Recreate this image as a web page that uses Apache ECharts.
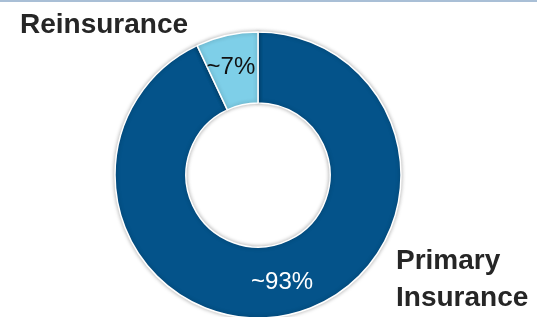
<!DOCTYPE html>
<html>
<head>
<meta charset="utf-8">
<script src="https://cdn.jsdelivr.net/npm/echarts@6/dist/echarts.min.js"></script>
<style>
  html, body { margin: 0; padding: 0; background: #fff; }
  #main { width: 537px; height: 317px; }
</style>
</head>
<body>
<div id="main"></div>
<script>
// segments, clockwise from 12 o'clock
var segNames = ["Primary Insurance", "Reinsurance"];
var segValues = [93, 7];
var segLabels = ["~93%", "~7%"];
var segColors = ["#04538A", "#7ECFE8"];
var labelColors = ["#ffffff", "#111111"];

var chartDom = document.getElementById("main");
var myChart = echarts.init(chartDom, null, { renderer: "canvas" });

var pieData = [];
for (let i = 0; i < segNames.length; i++) {
  pieData.push({
    name: segNames[i],
    value: segValues[i],
    itemStyle: { color: segColors[i] },
    label: { color: labelColors[i], formatter: segLabels[i] }
  });
}
// nudge the small label a bit left like the original
pieData[1].label.padding = [0, 6, 10, 0];

var catFont = "bold 28px 'Liberation Sans', Arial, sans-serif";

var option = {
  animation: false,
  graphic: [
    {
      type: "rect",
      shape: { x: 0, y: 0, width: 537, height: 2 },
      style: { fill: "#A9BFD6" }
    },
    {
      type: "text",
      x: 20, y: 11,
      style: { text: "Reinsurance", font: catFont, fill: "#262626" }
    },
    {
      type: "text",
      x: 396, y: 247,
      style: { text: "Primary", font: catFont, fill: "#262626" }
    },
    {
      type: "text",
      x: 396, y: 284,
      style: { text: "Insurance", font: catFont, fill: "#262626" }
    }
  ],
  series: [
    {
      type: "pie",
      center: [258, 175],
      radius: [72, 143],
      startAngle: 90,
      clockwise: true,
      silent: true,
      itemStyle: {
        borderColor: "#ffffff",
        borderWidth: 1.5,
        shadowBlur: 4,
        shadowColor: "rgba(0,0,0,0.3)"
      },
      label: {
        position: "inside",
        fontSize: 24,
        padding: [0, 0, 8, 0],
        fontFamily: "'Liberation Sans', Arial, sans-serif"
      },
      labelLine: { show: false },
      data: pieData
    }
  ]
};

option && myChart.setOption(option);
</script>
</body>
</html>
